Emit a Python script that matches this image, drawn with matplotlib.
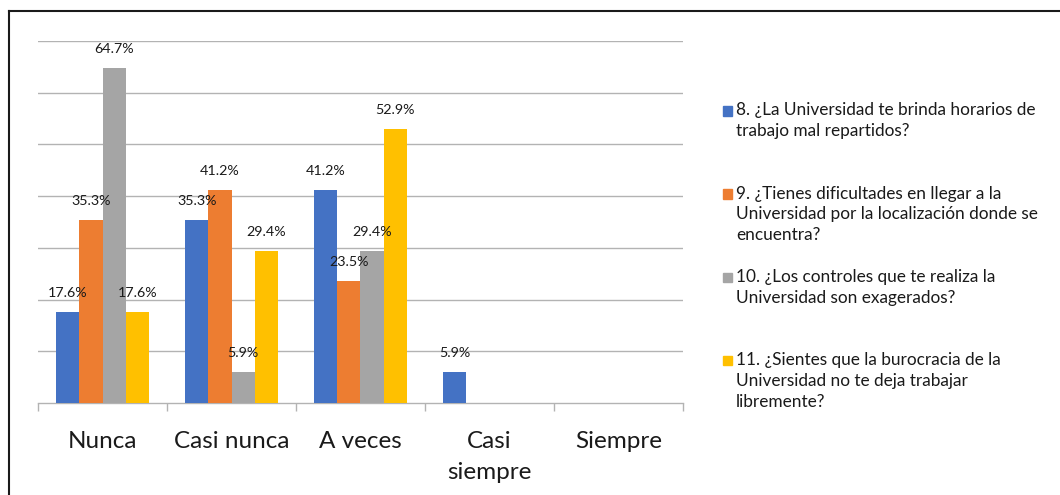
import matplotlib
matplotlib.use("Agg")
import matplotlib.pyplot as plt
from matplotlib.lines import Line2D
from matplotlib.patches import Rectangle
import numpy as np

plt.rcParams['font.family'] = ['Lato', 'DejaVu Sans']

categories = ["Nunca", "Casi nunca", "A veces", "Casi\nsiempre", "Siempre"]
series_names = [
    "8. ¿La Universidad te brinda horarios de\ntrabajo mal repartidos?",
    "9. ¿Tienes dificultades en llegar a la\nUniversidad por la localización donde se\nencuentra?",
    "10. ¿Los controles que te realiza la\nUniversidad son exagerados?",
    "11. ¿Sientes que la burocracia de la\nUniversidad no te deja trabajar\nlibremente?",
]
q8 = [17.6, 35.3, 41.2, 5.9, 0.0]
q9 = [35.3, 41.2, 23.5, 0.0, 0.0]
q10 = [64.7, 5.9, 29.4, 0.0, 0.0]
q11 = [17.6, 29.4, 52.9, 0.0, 0.0]
series_values = [q8, q9, q10, q11]
colors = ["#4472C4", "#ED7D31", "#A5A5A5", "#FFC000"]

W, H = 1060, 495
fig = plt.figure(figsize=(W / 100, H / 100), dpi=100)
ax = fig.add_axes([38 / W, 1 - 403 / H, (683 - 38) / W, (403 - 41) / H])

n_cat = len(categories)
x = np.arange(n_cat)
bar_w = 0.18
offsets = (np.arange(len(series_values)) - 1.5) * bar_w

for vals, off, col in zip(series_values, offsets, colors):
    bars = ax.bar(x + off, vals, width=bar_w, color=col, zorder=3)
    for b, v in zip(bars, vals):
        if v > 0:
            ax.annotate(f"{v:.1f}%", (b.get_x() + b.get_width() / 2, v),
                        xytext=(0, 10.8), textcoords="offset points",
                        ha="center", va="baseline", fontsize=10.3,
                        color="#1a1a1a", zorder=5)

ax.set_xlim(-0.5, n_cat - 0.5)
ax.set_ylim(0, 70)
ax.set_yticks(np.arange(10, 71, 10))
ax.yaxis.grid(True, color="#b3b3b3", lw=1.0, zorder=0)
ax.tick_params(axis="y", length=0, labelleft=False)

ax.set_xticks(x)
ax.set_xticklabels(categories, fontsize=17.5, color="#1a1a1a", linespacing=1.55)
ax.set_xticks(np.arange(-0.5, n_cat, 1.0), minor=True)
ax.tick_params(axis="x", which="major", length=0, pad=20.5)
ax.tick_params(axis="x", which="minor", length=6, width=1.0, color="#b3b3b3")

for side in ["top", "right", "left"]:
    ax.spines[side].set_visible(False)
ax.spines["bottom"].set_color("#b3b3b3")
ax.spines["bottom"].set_linewidth(1.0)

# Legend entries drawn at fixed slots on the right
first_top = 102.5
step = 83.3
for i, (name, col) in enumerate(zip(series_names, colors)):
    yt = first_top + i * step
    fig.patches.append(Rectangle((723 / W, 1 - (yt + 13) / H), 9 / W, 9.5 / H,
                                 transform=fig.transFigure, color=col))
    fig.text(736 / W, 1 - yt / H, name, fontsize=12.4, color="#1a1a1a",
             ha="left", va="top", linespacing=1.36)

# Frame lines around the graphic
fig.add_artist(Line2D([8.5 / W, 8.5 / W], [0, 1 - 11 / H], transform=fig.transFigure,
                      color="#1a1a1a", lw=1.5))
fig.add_artist(Line2D([8.5 / W, 1], [1 - 11 / H, 1 - 11 / H], transform=fig.transFigure,
                      color="#1a1a1a", lw=1.5))

fig.savefig("out.png", dpi=100)
